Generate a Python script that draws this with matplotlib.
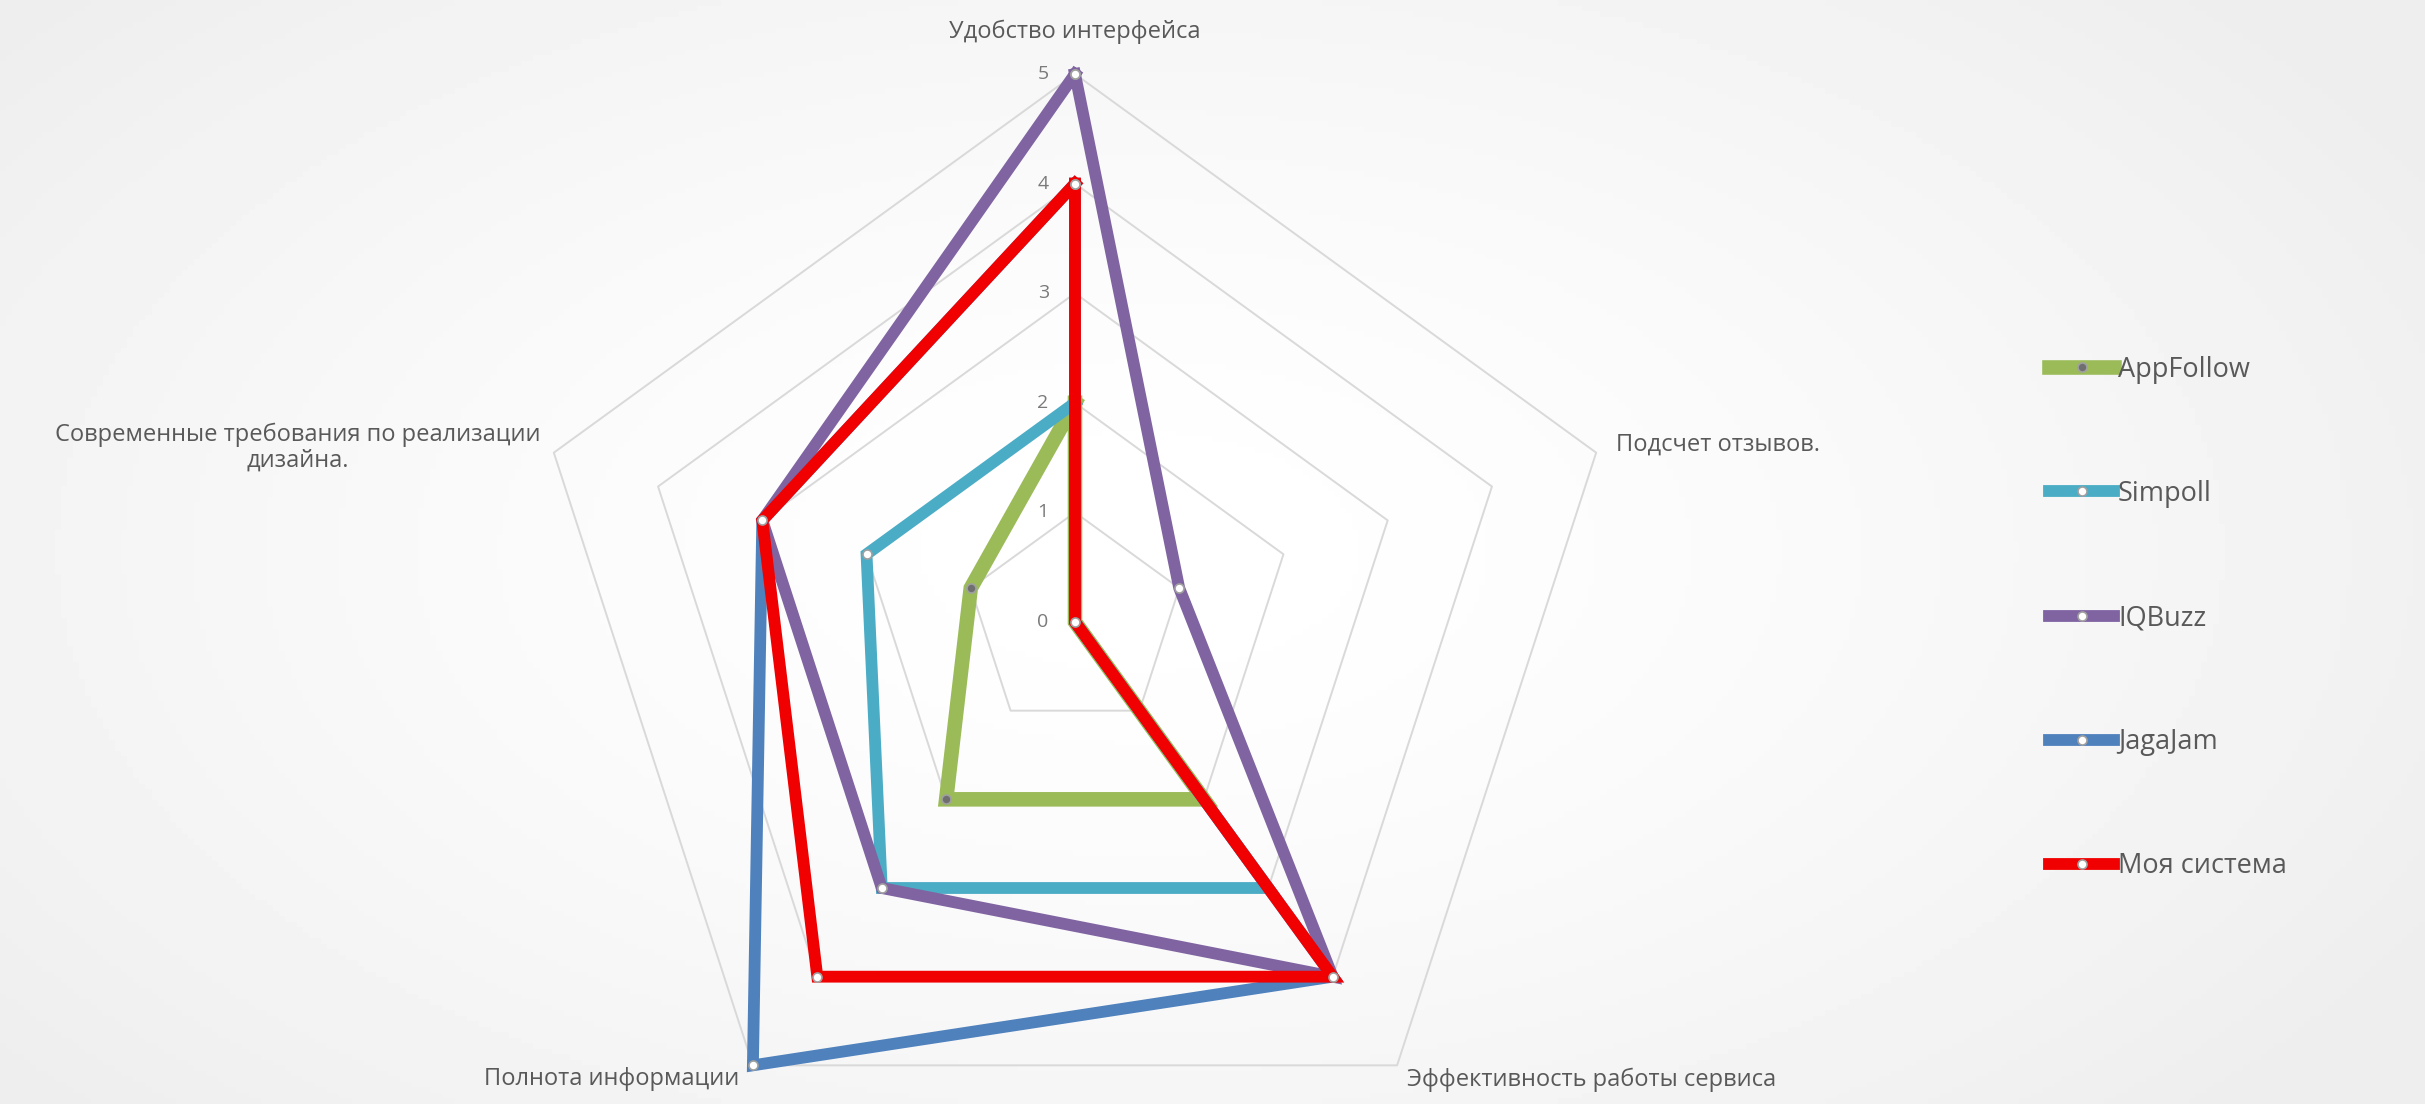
import numpy as np
import matplotlib
matplotlib.use('Agg')
import matplotlib.pyplot as plt

categories = ["Удобство интерфейса", "Подсчет отзывов.", "Эффективность работы сервиса",
              "Полнота информации", "Современные требования по реализации\nдизайна."]
series_names = ["AppFollow", "Simpoll", "IQBuzz", "JagaJam", "Моя система"]
appfollow = [2, 0, 2, 2, 1]
simpoll = [2, 0, 3, 3, 2]
iqbuzz = [5, 1, 4, 3, 3]
jagajam = [4, 0, 4, 5, 3]
my_system = [4, 0, 4, 4, 3]
ticks = [0, 1, 2, 3, 4, 5]

colors = ["#9BBB59", "#4BACC6", "#8064A2", "#4F81BD", "#F00000"]
widths = [10.5, 8.5, 8.5, 8.5, 8.5]
marker_fc = ["#6f6f6f", "white", "white", "white", "white"]

W, H = 2425, 1104
cx, cy = 1075, 622        # centre in pixels (from top-left)
k = 548 / 5               # pixels per unit

plt.rcParams['font.family'] = ['Open Sans', 'DejaVu Sans']
fig = plt.figure(figsize=(W / 100, H / 100), dpi=100)

# soft grey vignette background
bg = fig.add_axes([0, 0, 1, 1], zorder=0)
gx, gy = np.meshgrid(np.linspace(0, 1, 400), np.linspace(0, 1, 200))
d = np.sqrt(((gx - 0.47) / 0.62) ** 2 + ((gy - 0.5) / 0.75) ** 2)
shade = 1 - 0.07 * np.clip(d, 0, 1) ** 1.5
bg.imshow(shade, cmap='gray', vmin=0, vmax=1, aspect='auto', extent=[0, 1, 0, 1])
bg.axis('off')

ax = fig.add_axes([0, 0, 1, 1], zorder=1)
ax.set_xlim(-cx / k, (W - cx) / k)
ax.set_ylim(-(H - cy) / k, cy / k)
ax.patch.set_alpha(0)
ax.axis('off')

n = len(categories)
ang = np.deg2rad(90 - 72 * np.arange(n))
ux, uy = np.cos(ang), np.sin(ang)

# pentagon grid
for t in ticks[1:]:
    ax.plot(np.append(ux, ux[0]) * t, np.append(uy, uy[0]) * t,
            color="#d9d9d9", lw=1.4, zorder=1)

# value labels on the top axis
for t in ticks:
    ax.text(-0.24, t, str(t), ha='right', va='center', fontsize=14, color="#7a7a7a")

# category labels
offsets = [(0, 42), (20, 8), (10, -14), (-14, -14), (-13, 5)]
aligns = ['center', 'left', 'left', 'right', 'right']
top = max(ticks)
for i, lab in enumerate(categories):
    ox, oy = offsets[i]
    ax.text(ux[i] * top + ox / k, uy[i] * top + oy / k, lab, ha=aligns[i], va='center',
            multialignment='center', fontsize=17, color="#595959", linespacing=1.1)

all_series = [appfollow, simpoll, iqbuzz, jagajam, my_system]
for j, vals in enumerate(all_series):
    v = np.array(vals, dtype=float)
    xs = np.append(ux * v, ux[0] * v[0])
    ys = np.append(uy * v, uy[0] * v[0])
    ax.plot(xs, ys, color=colors[j], lw=widths[j], solid_joinstyle='miter',
            marker='o', ms=6.5, mfc=marker_fc[j], mec="#a0a0a0", mew=1.2,
            label=series_names[j], zorder=2 + j)

fig.legend(loc='center left', bbox_to_anchor=(2049 / W, 1 - 618 / H), frameon=False,
           fontsize=19.5, labelcolor="#595959", handlelength=2.4, handletextpad=0.15,
           labelspacing=3.55, borderpad=0, borderaxespad=0)

fig.savefig("out.png", dpi=100)
